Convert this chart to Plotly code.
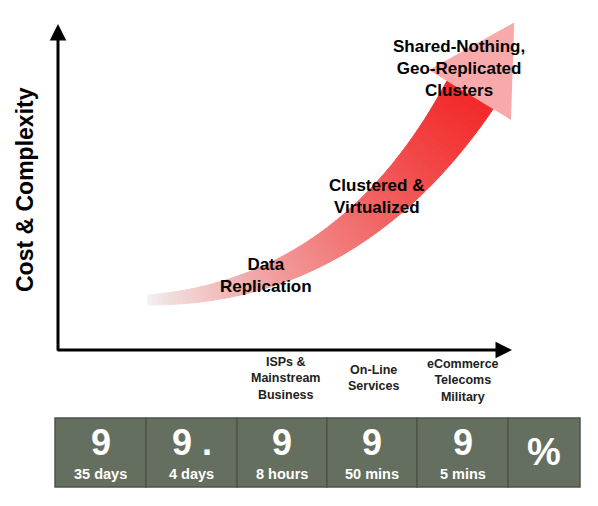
import plotly.graph_objects as go
import numpy as np

digits = ["9", "9 .", "9", "9", "9", "%"]
downtimes = ["35 days", "4 days", "8 hours", "50 mins", "5 mins", ""]
box_edges = [55, 146, 237, 327, 417, 508, 580]
markets = ["ISPs &<br>Mainstream<br>Business", "On-Line<br>Services", "eCommerce<br>Telecoms<br>Military"]
market_x = [285, 373, 463]
market_y = [378, 378, 380]
stages = ["Data<br>Replication", "Clustered &<br>Virtualized", "Shared-Nothing,<br>Geo-Replicated<br>Clusters"]
stage_xy = [(266, 275), (376, 196), (459, 68)]

fig = go.Figure()
F = "Liberation Sans, Arial"

# curved gradient arrow (decoration)
P0, P1, P2 = np.array([148, 300]), np.array([350, 292]), np.array([470, 95])
N = 80
ts = np.linspace(0, 1, N + 1)
pts = [(1-t)**2*P0 + 2*(1-t)*t*P1 + t**2*P2 for t in ts]
ders = [2*(1-t)*(P1-P0) + 2*t*(P2-P1) for t in ts]
def side(i, s):
    d = ders[i]/np.linalg.norm(ders[i]); n = np.array([-d[1], d[0]])
    w = 5 + 22*ts[i]**1.1
    return pts[i] + s*w*n
for i in range(N):
    q = [side(i, 1), side(i+1, 1), side(i+1, -1), side(i, -1)]
    t = ts[i]
    g = int(240 - 200*t**0.8); b = g
    col = f"rgb(242,{g},{b})"
    path = "M " + " L ".join(f"{p[0]},{p[1]}" for p in q) + " Z"
    fig.add_shape(type="path", path=path, xref="x", yref="y",
                  line=dict(color=col, width=1), fillcolor=col)
d = ders[-1]/np.linalg.norm(ders[-1]); n = np.array([-d[1], d[0]])
tip = P2 + 85*d
b1 = P2 + 48*n; b2 = P2 - 48*n
fig.add_shape(type="path", path=f"M {b1[0]},{b1[1]} L {tip[0]},{tip[1]} L {b2[0]},{b2[1]} Z",
              xref="x", yref="y", line_width=0, fillcolor="rgb(248,170,170)")

# axes arrows
fig.add_annotation(x=58, y=24, ax=58, ay=352, xref="x", yref="y", axref="x", ayref="y",
                   showarrow=True, arrowhead=2, arrowsize=1.1, arrowwidth=3, arrowcolor="black", text="")
fig.add_annotation(x=512, y=350, ax=56, ay=350, xref="x", yref="y", axref="x", ayref="y",
                   showarrow=True, arrowhead=2, arrowsize=1.1, arrowwidth=3, arrowcolor="black", text="")
fig.add_annotation(x=25, y=190, text="<b>Cost & Complexity</b>", textangle=-90, showarrow=False,
                   font=dict(family=F, size=23, color="black"))

for (x, y), s in zip(stage_xy, stages):
    fig.add_annotation(x=x, y=y, text=f"<b>{s}</b>", showarrow=False,
                       font=dict(family=F, size=17, color="black"))
for x, y, s in zip(market_x, market_y, markets):
    fig.add_annotation(x=x, y=y, text=f"<b>{s}</b>", showarrow=False,
                       font=dict(family=F, size=12.5, color="#222"))

for i in range(6):
    x0, x1 = box_edges[i], box_edges[i+1]
    fig.add_shape(type="rect", x0=x0, x1=x1, y0=418, y1=487, xref="x", yref="y",
                  fillcolor="#656f5f", line=dict(color="#4e5549", width=1.5))
    xc = (x0+x1)/2
    if downtimes[i]:
        fig.add_annotation(x=xc, y=442, text=f"<b>{digits[i]}</b>", showarrow=False,
                           font=dict(family=F, size=36, color="white"))
        fig.add_annotation(x=xc, y=474, text=f"<b>{downtimes[i]}</b>", showarrow=False,
                           font=dict(family=F, size=14.5, color="white"))
    else:
        fig.add_annotation(x=xc, y=452, text=f"<b>{digits[i]}</b>", showarrow=False,
                           font=dict(family=F, size=38, color="white"))

fig.update_layout(width=598, height=506, margin=dict(l=0, r=0, t=0, b=0),
                  plot_bgcolor="white", paper_bgcolor="white", showlegend=False,
                  xaxis=dict(range=[8, 606], visible=False, fixedrange=True),
                  yaxis=dict(range=[514, 8], visible=False, fixedrange=True))
fig.write_html("out.html")
